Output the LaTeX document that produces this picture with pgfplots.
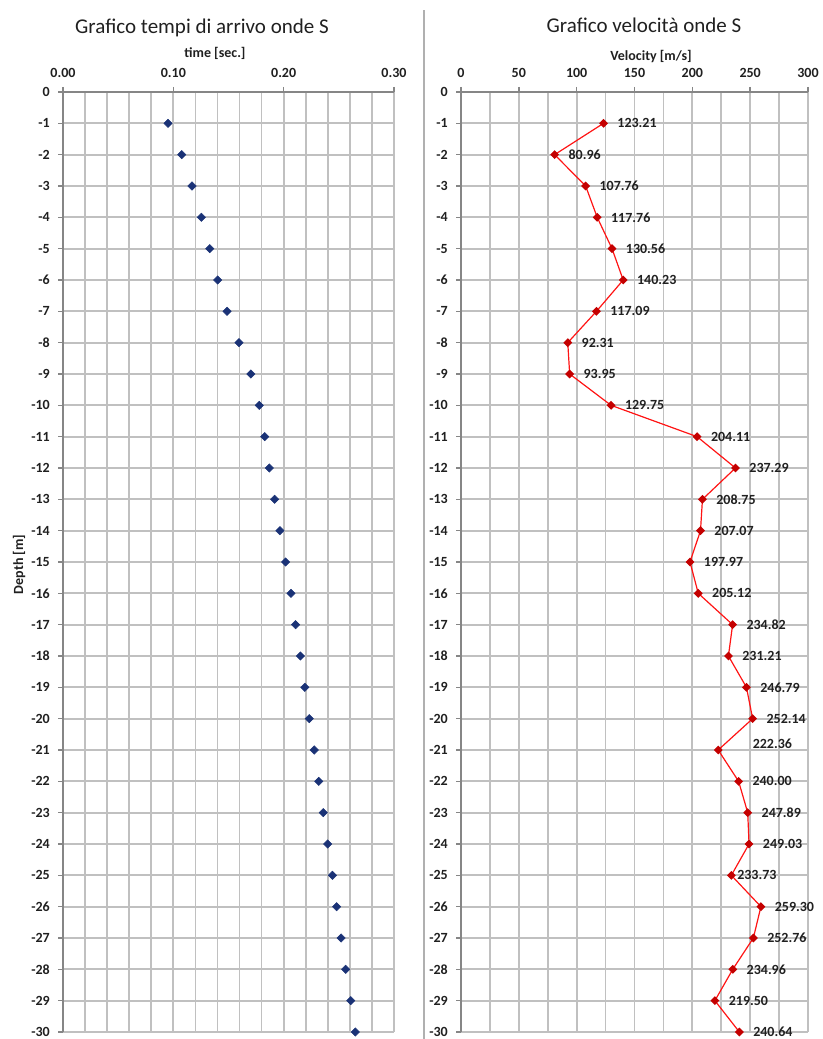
\documentclass[border=0pt]{standalone}
\usepackage{fontspec}
\setmainfont{Carlito}
\usepackage{pgfplots}
\usepackage{pgfplotstable}
\pgfplotsset{compat=1.18}

\definecolor{gridgray}{RGB}{192,192,192}
\definecolor{axisgray}{RGB}{134,134,134}
\definecolor{sepgray}{RGB}{176,176,176}
\definecolor{txt}{RGB}{32,32,32}
\definecolor{navy}{RGB}{26,50,118}
\definecolor{vred}{RGB}{255,20,20}
\definecolor{mred}{RGB}{196,0,0}

% arrival times of the S waves (s) against depth (m)
\pgfplotstableread{
depth t
-1 0.0952
-2 0.1076
-3 0.1169
-4 0.1254
-5 0.1330
-6 0.1402
-7 0.1487
-8 0.1595
-9 0.1702
-10 0.1779
-11 0.1828
-12 0.1870
-13 0.1918
-14 0.1966
-15 0.2017
-16 0.2066
-17 0.2108
-18 0.2152
-19 0.2192
-20 0.2232
-21 0.2277
-22 0.2318
-23 0.2359
-24 0.2399
-25 0.2442
-26 0.2480
-27 0.2520
-28 0.2562
-29 0.2608
-30 0.2649
}\timedata

% interval velocities (m/s); dx, dy = label offsets (pt)
\pgfplotstableread{
depth v dx dy
-1 123.21 10 0
-2 80.96 10 0
-3 107.76 10 0
-4 117.76 10 0
-5 130.56 10 0
-6 140.23 10 0
-7 117.09 10 0
-8 92.31 10 0
-9 93.95 10 0
-10 129.75 10 0
-11 204.11 10 0
-12 237.29 10 0
-13 208.75 10 0
-14 207.07 10 0
-15 197.97 10 0
-16 205.12 10 0
-17 234.82 10 0
-18 231.21 10 0
-19 246.79 10 0
-20 252.14 10 0
-21 222.36 25.5 4.5
-22 240.00 10 0
-23 247.89 10 0
-24 249.03 10 0
-25 233.73 4 0
-26 259.30 10 0
-27 252.76 10 0
-28 234.96 10 0
-29 219.50 10 0
-30 240.64 10 0
}\veldata

\newcommand{\lblfont}{\fontsize{10.5}{12}\selectfont\bfseries}

\pgfplotsset{
  /pgf/number format/assume math mode=true,
  panel/.style={
    scale only axis,
    height=705pt,
    axis x line*=top,
    axis y line*=left,
    ymin=-30, ymax=0,
    ytick={-30,-29,...,0},
    yticklabel style={font=\lblfont, text=txt, anchor=east, inner sep=0pt, xshift=-6pt},
    xticklabel style={font=\lblfont, text=txt, anchor=base, inner sep=0pt, yshift=6.75pt},
    tick align=outside,
    major tick length=3.75pt,
    minor tick length=0pt,
    tick style={axisgray, line width=1.1pt},
    axis line style={axisgray, line width=1.4pt},
    grid=both,
    major grid style={gridgray, line width=1.3pt},
    minor grid style={gridgray, line width=1.3pt},
    clip=false,
  },
}

\begin{document}
\begin{tikzpicture}[x=1pt, y=1pt]
\useasboundingbox (0,0) rectangle (616.5,779.25);
\clip (0,0) rectangle (616.5,779.25);

% separator between the two panels
\draw[sepgray, line width=2pt] (318,0) -- (318,771.75);

% arrival times
\begin{axis}[panel,
  at={(47.25pt,5.25pt)}, anchor=south west,
  width=248.25pt,
  xmin=0, xmax=0.30,
  xtick={0,0.1,0.2,0.3},
  minor x tick num=4,
  xticklabel style={/pgf/number format/.cd, fixed, fixed zerofill, precision=2},
]
\addplot[only marks, mark=square*, mark size=2.2pt,
  mark options={fill=navy, draw=navy, rotate=45}]
  table[x=t, y=depth] {\timedata};
\end{axis}

% velocities
\begin{axis}[panel,
  at={(345.75pt,5.25pt)}, anchor=south west,
  width=260.25pt,
  xmin=0, xmax=300,
  xtick={0,50,...,300},
  minor x tick num=1,
]
\addplot[vred, line width=0.9pt, mark=square*, mark size=1.9pt,
  mark options={fill=mred, draw=mred, rotate=45, solid},
  visualization depends on={\thisrow{dx}\as\ldx},
  visualization depends on={\thisrow{dy}\as\ldy},
  point meta=x,
  nodes near coords={\pgfmathprintnumber[fixed, fixed zerofill, precision=2]{\pgfplotspointmeta}},
  every node near coord/.append style={anchor=west, inner sep=0pt,
    xshift=\ldx pt, yshift=\ldy pt, font=\lblfont, text=txt}]
  table[x=v, y=depth] {\veldata};
\end{axis}

% titles and axis labels
\node[text=txt, font=\fontsize{15.75}{18}\selectfont] at (151.5,758.25) {Grafico tempi di arrivo onde S};
\node[text=txt, font=\fontsize{15.75}{18}\selectfont] at (483,760.5) {Grafico velocità onde S};
\node[text=txt, font=\lblfont, anchor=base] at (161.25,735.75) {time [sec.]};
\node[text=txt, font=\lblfont, anchor=base] at (488.25,733.5) {Velocity [m/s]};
\node[text=txt, font=\lblfont, rotate=90] at (14.25,355.9) {Depth [m]};
\end{tikzpicture}
\end{document}
